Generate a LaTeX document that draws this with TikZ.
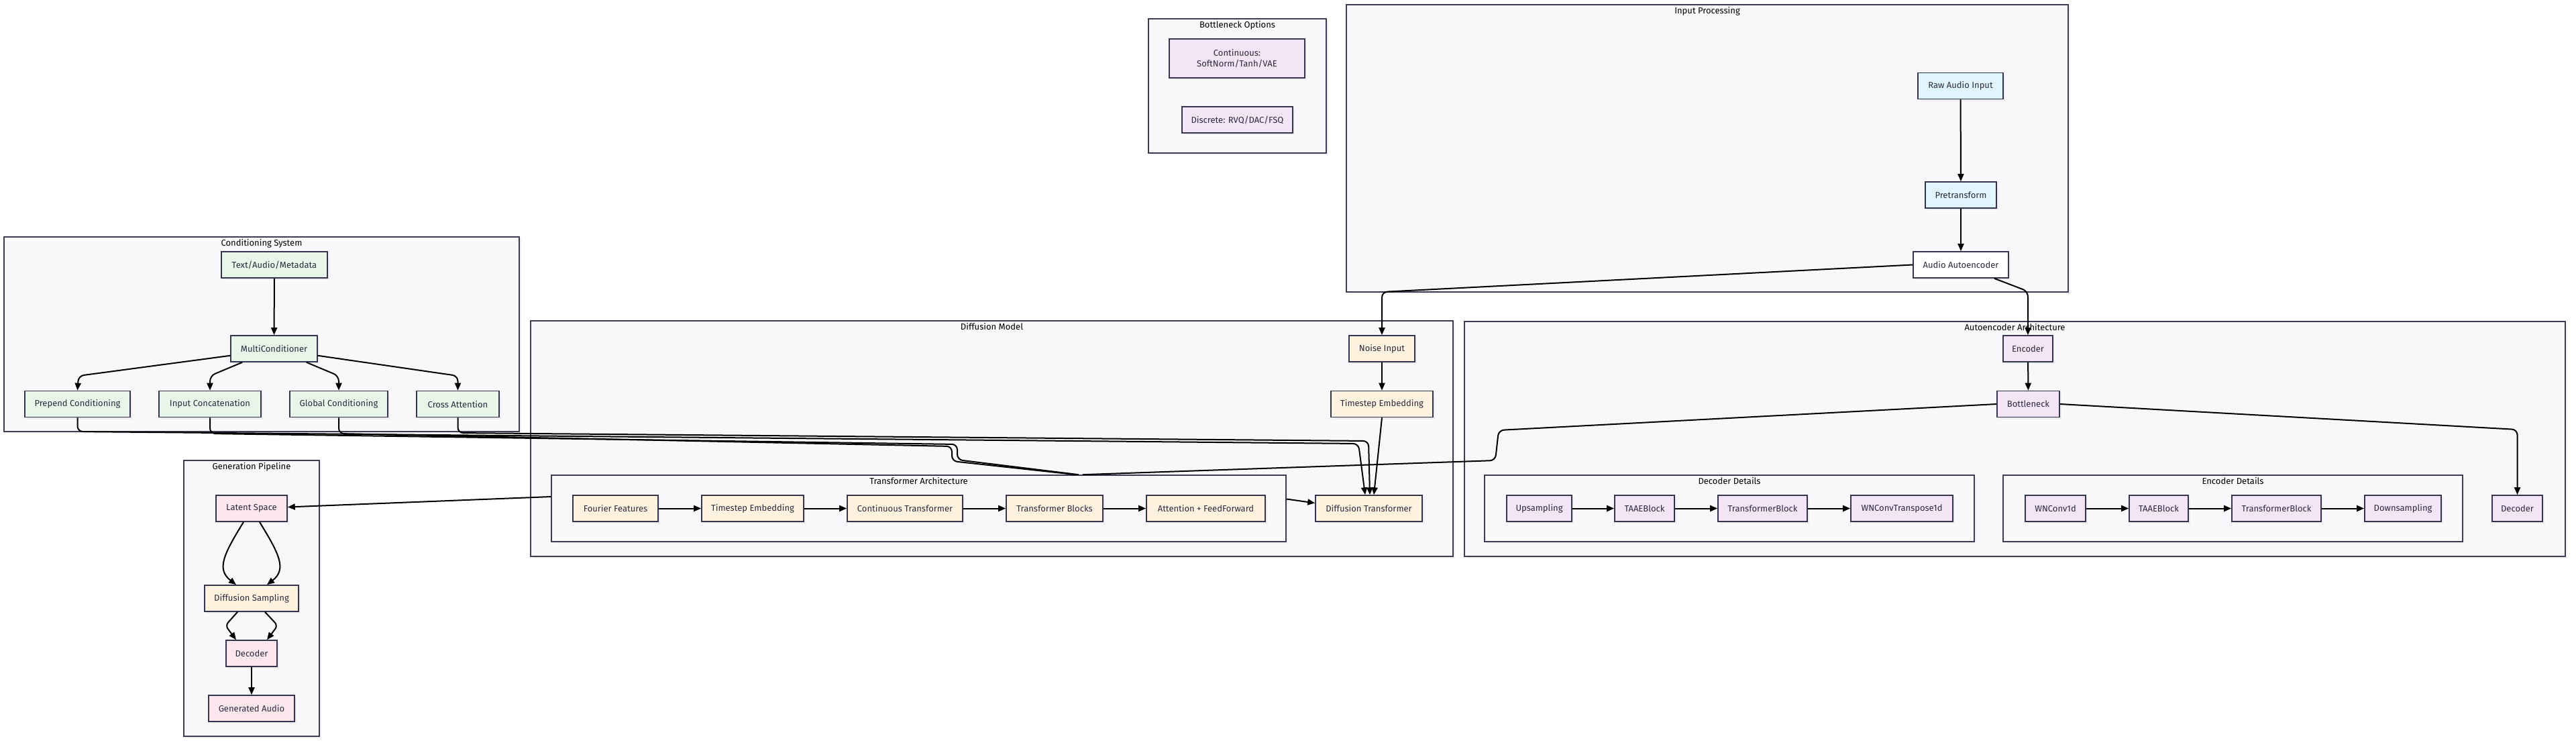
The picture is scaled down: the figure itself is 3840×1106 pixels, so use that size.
\documentclass[tikz,border=0pt]{standalone}
\usepackage{fontspec}
\setmainfont{Fira Sans}
\usetikzlibrary{arrows.meta,shadows,calc}
\definecolor{clf}{HTML}{F8F8FA}
\definecolor{clb}{HTML}{3C3C52}
\definecolor{ndb}{HTML}{34344E}
\definecolor{txt}{HTML}{2A2A3E}
\definecolor{cgreen}{HTML}{E8F5E9}
\definecolor{cpink}{HTML}{FCE8EC}
\definecolor{corange}{HTML}{FFF3E0}
\definecolor{cpurple}{HTML}{F3E5F5}
\definecolor{cblue}{HTML}{E1F5FE}
\newcommand\fsz{\fontsize{13}{16}\selectfont}
\tikzset{
  nd/.style={draw=ndb, line width=1.6pt, inner sep=2pt, align=center, text=txt,
    minimum height=39pt, font=\fsz,
    general shadow={fill=black!7, shadow xshift=3pt, shadow yshift=-3pt}},
  grn/.style={nd, fill=cgreen},
  pnk/.style={nd, fill=cpink},
  org/.style={nd, fill=corange},
  prp/.style={nd, fill=cpurple},
  blu/.style={nd, fill=cblue},
  wht/.style={nd, fill=white},
  clus/.style={draw=clb, fill=clf, line width=1.6pt, inner sep=0pt,
    general shadow={fill=black!5, shadow xshift=3pt, shadow yshift=-3pt}},
  ttl/.style={anchor=north, font=\fsz, text=black, inner sep=1pt},
  arr/.style={line width=2pt, draw=black, -{Triangle[length=11pt,width=9pt]}},
  ln/.style={line width=2pt, draw=black},
  rc/.style={rounded corners=8pt},
}
\begin{document}
\begin{tikzpicture}[x=1pt,y=-1pt]
\fill[white] (0,0) rectangle (3840,1106);
\useasboundingbox (0,0) rectangle (3840,1106);

% ---------- clusters ----------
\node[clus, minimum width=768pt, minimum height=290pt] (cond) at (390,498) {};
\node[ttl] at ([yshift=-3pt]cond.north) {Conditioning System};
\node[clus, minimum width=202pt, minimum height=411pt] (gen) at (375,891.5) {};
\node[ttl] at ([yshift=-3pt]gen.north) {Generation Pipeline};
\node[clus, minimum width=265pt, minimum height=200pt] (bopt) at (1844.5,128) {};
\node[ttl] at ([yshift=-3pt]bopt.north) {Bottleneck Options};
\node[clus, minimum width=1076pt, minimum height=428pt] (inp) at (2545,221) {};
\node[ttl] at ([yshift=-3pt]inp.north) {Input Processing};
\node[clus, minimum width=1375pt, minimum height=351pt] (dm) at (1478.5,653.5) {};
\node[ttl] at ([yshift=-3pt]dm.north) {Diffusion Model};
\node[clus, minimum width=1095pt, minimum height=99pt] (ta) at (1369.5,757.5) {};
\node[ttl] at ([yshift=-3pt]ta.north) {Transformer Architecture};
\node[clus, minimum width=1641pt, minimum height=350pt] (ae) at (3003.5,654) {};
\node[ttl] at ([yshift=-3pt]ae.north) {Autoencoder Architecture};
\node[clus, minimum width=730pt, minimum height=99pt] (dd) at (2578,757.5) {};
\node[ttl] at ([yshift=-3pt]dd.north) {Decoder Details};
\node[clus, minimum width=685pt, minimum height=99pt] (ed) at (3328.5,757.5) {};
\node[ttl] at ([yshift=-3pt]ed.north) {Encoder Details};

% ---------- conditioning ----------
\node[grn, minimum width=158pt] (tam) at (409,394.5) {Text/Audio/Metadata};
\node[grn, minimum width=129pt] (mc) at (408.5,519.5) {MultiConditioner};
\node[grn, minimum width=157pt] (pc) at (115.5,602) {Prepend Conditioning};
\node[grn, minimum width=152pt] (ic) at (313,602) {Input Concatenation};
\node[grn, minimum width=146pt] (gc) at (505,602) {Global Conditioning};
\node[grn, minimum width=123pt] (ca) at (682.5,602) {Cross Attention};

% ---------- generation ----------
\node[pnk, minimum width=106pt] (ls) at (375,757.5) {Latent Space};
\node[org, minimum width=140pt] (ds) at (375,891.5) {Diffusion Sampling};
\node[pnk, minimum width=76pt] (gd) at (375,973.5) {Decoder};
\node[pnk, minimum width=128pt] (ga) at (375,1055.5) {Generated Audio};

% ---------- bottleneck options ----------
\node[prp, minimum width=202pt, minimum height=58pt] (cont) at (1844,87) {Continuous:\\SoftNorm/Tanh/VAE};
\node[prp, minimum width=165pt] (disc) at (1844.5,178.5) {Discrete: RVQ/DAC/FSQ};

% ---------- input processing ----------
\node[blu, minimum width=127pt] (raw) at (2922.5,128) {Raw Audio Input};
\node[blu, minimum width=106pt] (pre) at (2923,290.5) {Pretransform};
\node[wht, minimum width=142pt] (aa) at (2923,394.5) {Audio Autoencoder};

% ---------- diffusion model ----------
\node[org, minimum width=98pt] (ni) at (2060,519.5) {Noise Input};
\node[org, minimum width=152pt] (te) at (2060,602) {Timestep Embedding};
\node[org, minimum width=127pt] (ff) at (917.5,757.5) {Fourier Features};
\node[org, minimum width=152pt] (te2) at (1122,757.5) {Timestep Embedding};
\node[org, minimum width=172pt] (ct) at (1349,757.5) {Continuous Transformer};
\node[org, minimum width=144pt] (tb) at (1572,757.5) {Transformer Blocks};
\node[org, minimum width=177pt] (af) at (1797.5,757.5) {Attention + FeedForward};
\node[org, minimum width=159pt] (dt) at (2040.5,757.5) {Diffusion Transformer};

% ---------- autoencoder ----------
\node[prp, minimum width=74pt] (enc) at (3023,519.5) {Encoder};
\node[prp, minimum width=93pt] (bn) at (3023.5,602) {Bottleneck};
\node[prp, minimum width=97pt] (up) at (2294.5,757.5) {Upsampling};
\node[prp, minimum width=89pt] (taa1) at (2451.5,757.5) {TAAEBlock};
\node[prp, minimum width=133pt] (trb1) at (2627.5,757.5) {TransformerBlock};
\node[prp, minimum width=152pt] (wnct) at (2835,757.5) {WNConvTranspose1d};
\node[prp, minimum width=90pt] (wnc) at (3064,757.5) {WNConv1d};
\node[prp, minimum width=88pt] (taa2) at (3218,757.5) {TAAEBlock};
\node[prp, minimum width=133pt] (trb2) at (3393.5,757.5) {TransformerBlock};
\node[prp, minimum width=114pt] (down) at (3582,757.5) {Downsampling};
\node[prp, minimum width=75pt] (aedec) at (3752.5,757.5) {Decoder};

% ---------- named free ends ----------
\coordinate (tatopA) at ([xshift=234.5pt]ta.north);
\coordinate (tatopB) at ([xshift=238.5pt]ta.north);
\coordinate (tatopC) at ([xshift=244.5pt]ta.north);
\coordinate (taout) at ([yshift=17.5pt]ta.west);

% ---------- edges ----------
\draw[arr] (tam) -- (mc);
\draw[arr, rc] ([yshift=10pt]mc.south west) -- (117,560) -- (pc.north);
\draw[arr, rc] ([xshift=18pt]mc.south west) -- (313,560) -- (ic.north);
\draw[arr, rc] ([xshift=-17pt]mc.south east) -- (505,560) -- (gc.north);
\draw[arr, rc] ([yshift=10pt]mc.south east) -- (682.5,560) -- (ca.north);

\draw[arr, rc] (pc.south) -- (115.5,643) -- (2025,661) -- ([xshift=-5.5pt]dt.north);
\draw[arr, rc] (ca.south) -- (682.5,645) -- (2040,657) -- ([xshift=1.5pt]dt.north);
\draw[ln, rc] (ic.south) -- (313,646) -- (1427,662) -- (1427,685) -- (tatopB);
\draw[ln, rc] (gc.south) -- (505,646) -- (1419,665) -- (1419,687) -- (tatopA);

\draw[ln, rc] (bn.west) -- (2234,641) -- (2229,686) -- (tatopC);
\draw[arr] (taout) -- ([yshift=2pt]ls.east);
\draw[arr, rc] (bn.east) -- (3752.5,640) -- (aedec.north);
\draw[arr] (enc) -- (bn);
\draw[arr, rc] (aa.west) -- (2060,435) -- (ni.north);
\draw[arr, rc] ([xshift=-22pt]aa.south east) -- (3023,434) -- (enc.north);
\draw[arr] (raw) -- (pre);
\draw[arr] (pre) -- (aa);

\draw[arr] (ni) -- (te);
\draw[arr] (te.south) -- ([xshift=7.5pt]dt.north);
\draw[arr] ([yshift=14pt]ta.east) -- ([yshift=8pt]dt.west);
\draw[arr] (ff) -- (te2);
\draw[arr] (te2) -- (ct);
\draw[arr] (ct) -- (tb);
\draw[arr] (tb) -- (af);

\draw[arr] (up) -- (taa1);
\draw[arr] (taa1) -- (trb1);
\draw[arr] (trb1) -- (wnct);
\draw[arr] (wnc) -- (taa2);
\draw[arr] (taa2) -- (trb2);
\draw[arr] (trb2) -- (down);

\draw[arr] ([xshift=-12pt]ls.south) .. controls (334,825) and (322,848) .. ([xshift=-23pt]ds.north);
\draw[arr] ([xshift=12pt]ls.south) .. controls (416,825) and (428,848) .. ([xshift=23pt]ds.north);
\draw[arr, rounded corners=6pt] ([xshift=-21pt]ds.south) -- (336,932) -- ([xshift=-23pt]gd.north);
\draw[arr, rounded corners=6pt] ([xshift=20pt]ds.south) -- (414,932) -- ([xshift=23pt]gd.north);
\draw[arr] (gd) -- (ga);
\end{tikzpicture}
\end{document}
